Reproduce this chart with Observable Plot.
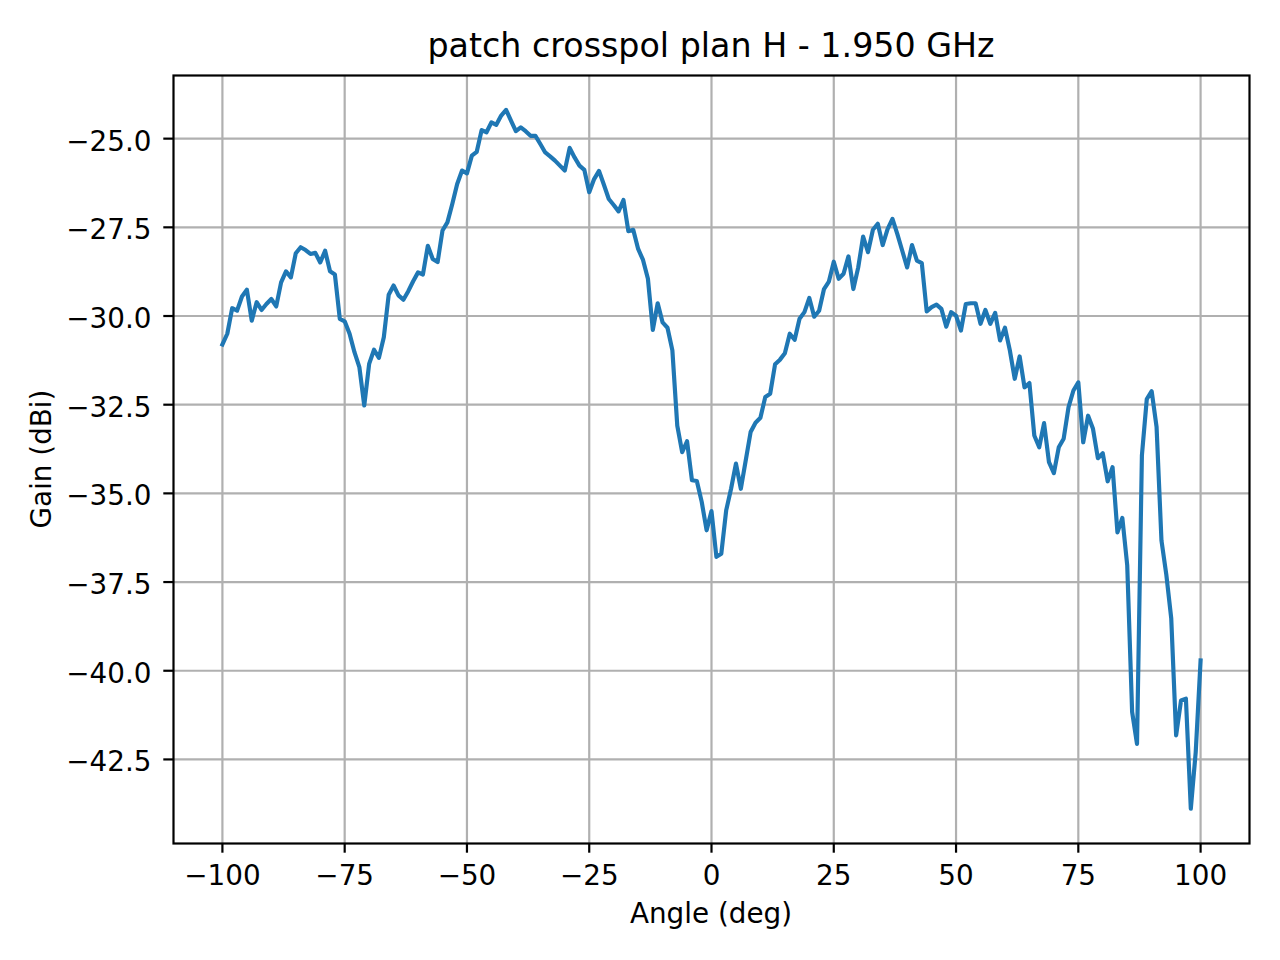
<!DOCTYPE html>
<html>
<head>
<meta charset="utf-8">
<script src="https://cdn.jsdelivr.net/npm/d3@7"></script>
<script src="https://cdn.jsdelivr.net/npm/@observablehq/plot@0.6"></script>
<style>
  html, body { margin: 0; padding: 0; background: white; overflow: hidden; }
  #chart svg { display: block; }
</style>
</head>
<body>
<div id="chart"></div>
<script>
const title = "patch crosspol plan H - 1.950 GHz";
const xLabel = "Angle (deg)";
const yLabel = "Gain (dBi)";

const angles = [
  -100,-99,-98,-97,-96,-95,-94,-93,-92,-91,-90,-89,-88,-87,-86,-85,-84,-83,-82,-81,
  -80,-79,-78,-77,-76,-75,-74,-73,-72,-71,-70,-69,-68,-67,-66,-65,-64,-63,-62,-61,
  -60,-59,-58,-57,-56,-55,-54,-53,-52,-51,-50,-49,-48,-47,-46,-45,-44,-43,-42,-41,
  -40,-39,-38,-37,-36,-35,-34,-33,-32,-31,-30,-29,-28,-27,-26,-25,-24,-23,-22,-21,
  -20,-19,-18,-17,-16,-15,-14,-13,-12,-11,-10,-9,-8,-7,-6,-5,-4,-3,-2,-1,
  0,1,2,3,4,5,6,7,8,9,10,11,12,13,14,15,16,17,18,19,
  20,21,22,23,24,25,26,27,28,29,30,31,32,33,34,35,36,37,38,39,
  40,41,42,43,44,45,46,47,48,49,50,51,52,53,54,55,56,57,58,59,
  60,61,62,63,64,65,66,67,68,69,70,71,72,73,74,75,76,77,78,79,
  80,81,82,83,84,85,86,87,88,89,90,91,92,93,94,95,96,97,98,99,
  100
];

const gain = [
  -30.80,-30.50,-29.78,-29.85,-29.45,-29.26,-30.13,-29.61,-29.83,-29.66,
  -29.52,-29.73,-29.05,-28.74,-28.91,-28.23,-28.06,-28.14,-28.25,-28.22,
  -28.49,-28.16,-28.74,-28.83,-30.08,-30.15,-30.50,-31.02,-31.44,-32.52,
  -31.35,-30.95,-31.18,-30.60,-29.40,-29.14,-29.42,-29.54,-29.30,-29.02,
  -28.77,-28.83,-28.02,-28.39,-28.48,-27.59,-27.36,-26.84,-26.28,-25.90,
  -25.98,-25.48,-25.37,-24.76,-24.82,-24.54,-24.61,-24.35,-24.19,-24.49,
  -24.79,-24.68,-24.79,-24.92,-24.92,-25.15,-25.39,-25.50,-25.62,-25.76,
  -25.90,-25.26,-25.53,-25.76,-25.88,-26.51,-26.14,-25.91,-26.30,-26.70,
  -26.87,-27.05,-26.73,-27.61,-27.57,-28.11,-28.42,-28.95,-30.39,-29.64,
  -30.18,-30.33,-30.97,-33.09,-33.84,-33.53,-34.63,-34.65,-35.24,-36.04,
  -35.50,-36.79,-36.70,-35.48,-34.87,-34.16,-34.87,-34.07,-33.27,-33.01,
  -32.87,-32.28,-32.19,-31.36,-31.23,-31.05,-30.50,-30.67,-30.08,-29.89,
  -29.49,-30.02,-29.85,-29.24,-29.03,-28.47,-28.95,-28.81,-28.32,-29.24,
  -28.63,-27.76,-28.20,-27.57,-27.40,-28.00,-27.55,-27.26,-27.69,-28.16,
  -28.63,-28.00,-28.44,-28.51,-29.87,-29.75,-29.68,-29.80,-30.30,-29.89,
  -29.99,-30.41,-29.66,-29.64,-29.64,-30.22,-29.83,-30.22,-29.91,-30.69,
  -30.33,-30.97,-31.77,-31.14,-32.01,-31.89,-33.37,-33.70,-33.02,-34.12,
  -34.43,-33.70,-33.46,-32.57,-32.10,-31.87,-33.56,-32.81,-33.18,-34.01,
  -33.87,-34.66,-34.26,-36.10,-35.69,-37.03,-41.16,-42.06,-33.93,-32.34,
  -32.12,-33.13,-36.33,-37.30,-38.53,-41.82,-40.84,-40.79,-43.89,-42.30,
  -39.71
];

const xTicks = [-100, -75, -50, -25, 0, 25, 50, 75, 100];
const yTicks = [-42.5, -40.0, -37.5, -35.0, -32.5, -30.0, -27.5, -25.0];

const data = angles.map((a, i) => ({angle: a, gain: gain[i]}));

const W = 1280, H = 960;
const mL = 173, mR = 31, mT = 75, mB = 117;
const font = "'DejaVu Sans', 'Liberation Sans', sans-serif";

const plot = Plot.plot({
  width: W,
  height: H,
  marginLeft: mL,
  marginRight: mR,
  marginTop: mT,
  marginBottom: mB,
  style: {fontFamily: font, fontSize: "27.8px", background: "white", color: "black", overflow: "visible"},
  x: {domain: [-110, 110], label: null},
  y: {domain: [-44.87, -23.22], label: null},
  marks: [
    Plot.gridX(xTicks, {stroke: "#b0b0b0", strokeOpacity: 1, strokeWidth: 2.2}),
    Plot.gridY(yTicks, {stroke: "#b0b0b0", strokeOpacity: 1, strokeWidth: 2.2}),
    Plot.line(data, {x: "angle", y: "gain", stroke: "#1f77b4", strokeWidth: 4.17, strokeLinejoin: "round", strokeLinecap: "square"}),
    Plot.frame({stroke: "black", strokeWidth: 2.2}),
    Plot.axisX(xTicks, {tickSize: 9.7, tickPadding: 12.5, strokeWidth: 2.2, label: null, fontSize: 27.8}),
    Plot.axisY(yTicks, {tickSize: 9.7, strokeWidth: 2.2, label: null, tickFormat: () => ""}),
    Plot.axisY(yTicks, {tickSize: 0, tickPadding: 22, label: null, fontSize: 27.8, tickFormat: d3.format(".1f"), dy: 3})
  ]
});

document.getElementById("chart").appendChild(plot);

const svg = d3.select(plot);
const cx = mL + (W - mL - mR) / 2;
const cy = mT + (H - mT - mB) / 2;

svg.append("text")
  .attr("x", cx).attr("y", 57)
  .attr("text-anchor", "middle")
  .attr("font-family", font)
  .attr("font-size", "33.3px")
  .attr("fill", "black")
  .text(title);

svg.append("text")
  .attr("x", cx).attr("y", 923)
  .attr("text-anchor", "middle")
  .attr("font-family", font)
  .attr("font-size", "27.8px")
  .attr("fill", "black")
  .text(xLabel);

svg.append("text")
  .attr("transform", `translate(51,${cy}) rotate(-90)`)
  .attr("text-anchor", "middle")
  .attr("font-family", font)
  .attr("font-size", "27.8px")
  .attr("fill", "black")
  .text(yLabel);
</script>
</body>
</html>
